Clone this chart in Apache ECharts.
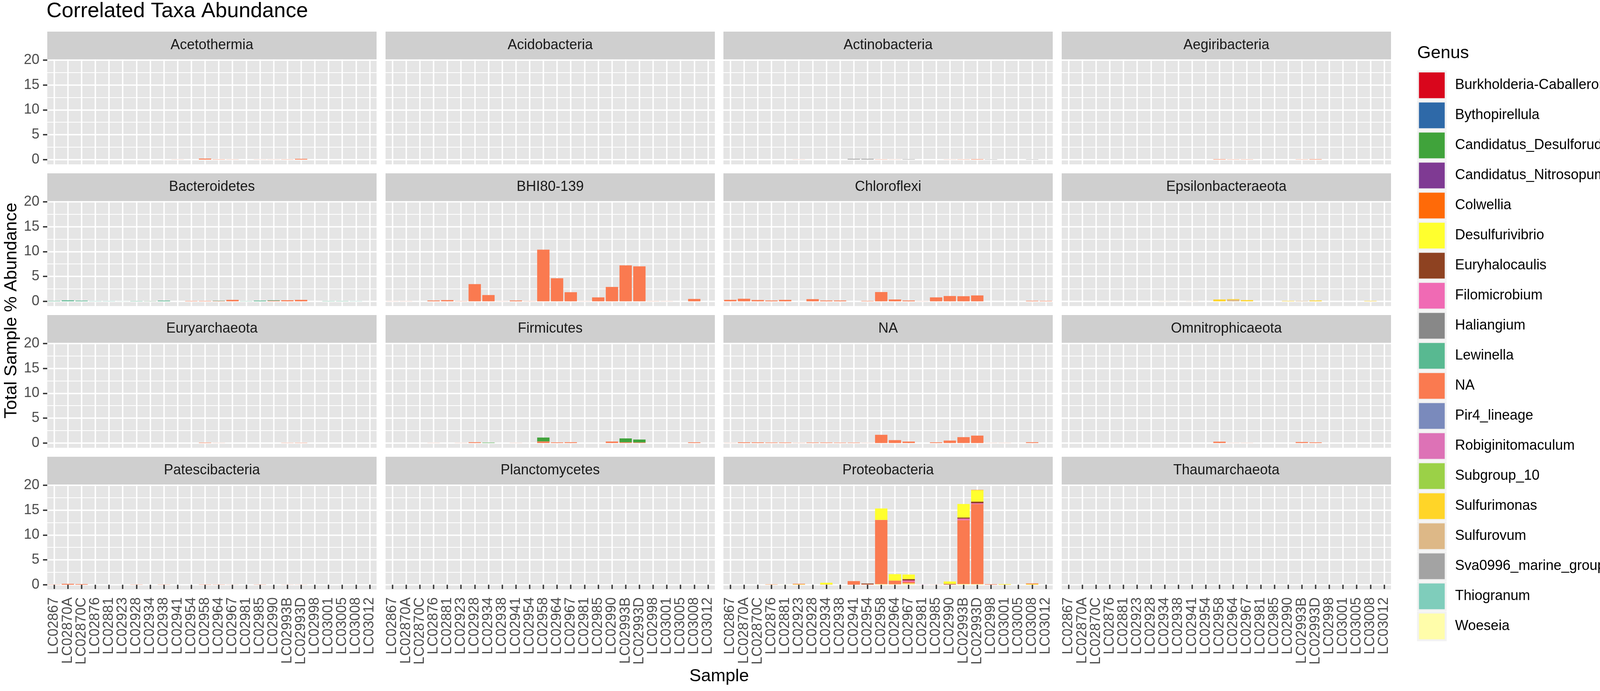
<!DOCTYPE html>
<html>
<head>
<meta charset="utf-8">
<title>Correlated Taxa Abundance</title>
<script src="https://cdn.jsdelivr.net/npm/echarts@6.0.0/dist/echarts.min.js"></script>
<style>
  html, body { margin: 0; padding: 0; background: #ffffff; }
  #chart { width: 4442px; height: 1770px; }
</style>
</head>
<body>
<div id="chart"></div>
<script>
// Samples on the x axis of every facet
const samples = ['LC02867', 'LC02870A', 'LC02870C', 'LC02876', 'LC02881', 'LC02923', 'LC02928', 'LC02934',
  'LC02938', 'LC02941', 'LC02954', 'LC02958', 'LC02964', 'LC02967', 'LC02981', 'LC02985', 'LC02990',
  'LC02993B', 'LC02993D', 'LC02998', 'LC03001', 'LC03005', 'LC03008', 'LC03012']

// Facets (phylum), in panel order
const phyla = ['Acetothermia', 'Acidobacteria', 'Actinobacteria', 'Aegiribacteria',
  'Bacteroidetes', 'BHI80-139', 'Chloroflexi', 'Epsilonbacteraeota',
  'Euryarchaeota', 'Firmicutes', 'NA', 'Omnitrophicaeota',
  'Patescibacteria', 'Planctomycetes', 'Proteobacteria', 'Thaumarchaeota']

// Fill legend
const genera = ['Burkholderia-Caballeronia-Paraburkholderia', 'Bythopirellula', 'Candidatus_Desulforudis',
  'Candidatus_Nitrosopumilus', 'Colwellia', 'Desulfurivibrio', 'Euryhalocaulis', 'Filomicrobium',
  'Haliangium', 'Lewinella', 'NA', 'Pir4_lineage', 'Robiginitomaculum', 'Subgroup_10', 'Sulfurimonas',
  'Sulfurovum', 'Sva0996_marine_group', 'Thiogranum', 'Woeseia']
const genusColors = ['#D9061C', '#2E69A8', '#40A33B', '#7F3A93', '#FF6A08', '#FFFF2E', '#8E4221', '#F06AB4',
  '#888888', '#58B991', '#FA7A50', '#7A8ABC', '#DD72B6', '#9BD147', '#FFD528', '#DDB887',
  '#A3A3A3', '#7FCDBB', '#FFFDAA']

const yTicks = [0, 5, 10, 15, 20]

// % abundance per sample (same order as samples), one array per facet / genus
const acetothermiaNA = [0, 0, 0, 0, 0, 0, 0, 0.01, 0, 0.02, 0, 0.2, 0.05, 0.03, 0, 0.02, 0.02, 0.05, 0.15, 0, 0, 0, 0, 0]
const actinoSva0996 = [0, 0, 0, 0, 0, 0, 0, 0, 0, 0.16, 0.16, 0, 0, 0.08, 0, 0, 0, 0, 0, 0.06, 0, 0, 0.06, 0]
const actinoNA = [0, 0, 0, 0, 0, 0.02, 0, 0, 0, 0, 0, 0.04, 0.02, 0, 0, 0, 0.03, 0.04, 0.08, 0, 0, 0, 0, 0]
const aegiriNA = [0, 0, 0, 0, 0, 0, 0, 0, 0, 0, 0, 0.08, 0.04, 0.04, 0, 0, 0, 0.04, 0.08, 0, 0, 0, 0, 0]
const bacteroLewinella = [0.08, 0.2, 0.13, 0, 0, 0, 0.07, 0.04, 0.13, 0, 0, 0, 0.06, 0, 0.05, 0.13, 0.1, 0, 0, 0, 0.05, 0.05, 0, 0]
const bacteroThiogranum = [0, 0, 0, 0.05, 0.05, 0.02, 0, 0, 0, 0, 0, 0, 0, 0, 0, 0, 0, 0, 0, 0, 0, 0, 0.04, 0]
const bacteroNA = [0, 0, 0, 0, 0, 0, 0, 0.03, 0, 0, 0.07, 0.07, 0.07, 0.29, 0, 0, 0.11, 0.21, 0.29, 0, 0, 0, 0, 0]
const bhiNA = [0.03, 0.03, 0, 0.16, 0.24, 0.04, 3.45, 1.25, 0.03, 0.16, 0.03, 10.38, 4.63, 1.83, 0.02, 0.78, 2.88, 7.22, 7.03, 0.03, 0.02, 0, 0.47, 0]
const chloroNA = [0.29, 0.52, 0.26, 0.16, 0.29, 0, 0.44, 0.16, 0.16, 0, 0.08, 1.86, 0.37, 0.16, 0.03, 0.78, 1.07, 1.02, 1.18, 0, 0, 0, 0.1, 0.08]
const epsSulfurimonas = [0, 0, 0, 0, 0, 0, 0, 0, 0, 0, 0, 0.37, 0.13, 0.24, 0, 0, 0.08, 0, 0.16, 0, 0, 0, 0.08, 0]
const epsSulfurovum = [0, 0, 0, 0, 0, 0, 0, 0.02, 0, 0.02, 0, 0, 0.31, 0, 0, 0, 0, 0.08, 0, 0, 0, 0, 0, 0]
const euryNA = [0, 0, 0, 0, 0, 0, 0, 0, 0, 0, 0, 0.08, 0.02, 0, 0, 0, 0, 0.05, 0.05, 0, 0, 0, 0, 0]
const firmiDesulforudis = [0, 0, 0, 0, 0, 0, 0, 0.08, 0, 0, 0, 0.77, 0, 0, 0, 0, 0, 0.77, 0.58, 0, 0, 0, 0, 0]
const firmiNA = [0, 0, 0, 0.02, 0, 0.02, 0.16, 0, 0, 0.02, 0, 0.33, 0.13, 0.16, 0, 0, 0.29, 0.16, 0.12, 0, 0, 0, 0.13, 0]
const naNA = [0.03, 0.13, 0.13, 0.1, 0.1, 0.03, 0.1, 0.1, 0.08, 0.08, 0.02, 1.65, 0.58, 0.29, 0, 0.13, 0.5, 1.18, 1.49, 0.02, 0.02, 0, 0.16, 0]
const omniNA = [0, 0, 0, 0, 0, 0, 0, 0, 0, 0, 0, 0.27, 0.02, 0.02, 0, 0, 0, 0.2, 0.13, 0, 0, 0, 0, 0]
const patesNA = [0.05, 0.18, 0.12, 0, 0, 0, 0.05, 0, 0.05, 0, 0, 0.05, 0.04, 0.02, 0, 0.05, 0, 0.02, 0.02, 0, 0, 0, 0.01, 0]
const proteoColwellia = [0, 0, 0, 0, 0, 0, 0, 0, 0, 0, 0, 0, 0, 0, 0, 0, 0, 0, 0.05, 0, 0, 0, 0, 0]
const proteoDesulfurivibrio = [0, 0, 0, 0, 0, 0, 0, 0.35, 0, 0, 0, 2.3, 1.3, 0.91, 0, 0, 0.47, 2.72, 2.32, 0, 0.06, 0, 0, 0]
const proteoEuryhalocaulis = [0, 0, 0, 0, 0, 0, 0, 0, 0, 0, 0.15, 0, 0, 0.29, 0, 0, 0.08, 0.23, 0.31, 0, 0, 0, 0, 0]
const proteoFilomicrobium = [0, 0, 0, 0, 0, 0, 0, 0, 0, 0, 0, 0, 0, 0.26, 0.03, 0, 0, 0.31, 0.18, 0, 0, 0, 0, 0]
const proteoNA = [0, 0, 0, 0.05, 0, 0.1, 0, 0.05, 0, 0.73, 0.1, 12.92, 0.73, 0.31, 0, 0.03, 0.1, 12.85, 16.1, 0.1, 0, 0, 0.12, 0]
const proteoSulfurimonas = [0, 0, 0, 0.03, 0, 0.1, 0, 0, 0, 0, 0, 0, 0, 0.08, 0, 0, 0, 0, 0, 0, 0.06, 0, 0.15, 0]
const proteoWoeseia = [0, 0, 0, 0, 0.02, 0, 0, 0, 0, 0, 0, 0.12, 0.1, 0.2, 0, 0, 0, 0.13, 0.12, 0, 0, 0, 0, 0]

const facetSeries = {
  'Acetothermia': { NA: acetothermiaNA },
  'Actinobacteria': { NA: actinoNA, Sva0996_marine_group: actinoSva0996 },
  'Aegiribacteria': { NA: aegiriNA },
  'Bacteroidetes': { Lewinella: bacteroLewinella, NA: bacteroNA, Thiogranum: bacteroThiogranum },
  'BHI80-139': { NA: bhiNA },
  'Chloroflexi': { NA: chloroNA },
  'Epsilonbacteraeota': { Sulfurimonas: epsSulfurimonas, Sulfurovum: epsSulfurovum },
  'Euryarchaeota': { NA: euryNA },
  'Firmicutes': { Candidatus_Desulforudis: firmiDesulforudis, NA: firmiNA },
  'NA': { NA: naNA },
  'Omnitrophicaeota': { NA: omniNA },
  'Patescibacteria': { NA: patesNA },
  'Proteobacteria': {
    Colwellia: proteoColwellia, Desulfurivibrio: proteoDesulfurivibrio, Euryhalocaulis: proteoEuryhalocaulis,
    Filomicrobium: proteoFilomicrobium, NA: proteoNA, Sulfurimonas: proteoSulfurimonas, Woeseia: proteoWoeseia,
  },
}

// ---- layout (pixels) ----
const font = "'Liberation Sans', Arial, Helvetica, sans-serif"
const colLeft = [121, 987, 1852, 2718]
const rowTop = [81, 444, 807, 1170]
const panelW = 843
const stripH = 71
const plotH = 269
const yMin = -0.96
const yMax = 20.16
const gridColor = '#FFFFFF'
const panelBg = '#E5E5E5'
const stripBg = '#CFCFCF'
const tickColor = '#333333'
const labelColor = '#4D4D4D'

const chart = echarts.init(document.getElementById('chart'), null, { renderer: 'canvas' })

const grids = []
const xAxes = []
const yAxes = []
const graphics = []
const series = []
const zeros = samples.map(() => 0)
const stackOrder = genera.slice().reverse() // ggplot stacks the first level on top

phyla.forEach((phylum, f) => {
  const col = f % 4
  const row = Math.floor(f / 4)
  const left = colLeft[col]
  const top = rowTop[row]
  const bottomRow = row === 3
  const leftCol = col === 0

  grids.push({
    left, top: top + stripH, width: panelW, height: plotH,
    show: true, backgroundColor: panelBg, borderWidth: 0, containLabel: false,
  })

  xAxes.push({
    type: 'category', gridIndex: f, data: samples, boundaryGap: true,
    axisLine: { show: false },
    axisTick: { show: bottomRow, alignWithLabel: true, interval: 0, length: 11, lineStyle: { color: tickColor, width: 3.5 } },
    axisLabel: { show: bottomRow, interval: 0, rotate: 90, margin: 20, fontSize: 36, color: labelColor, fontFamily: font },
    splitLine: { show: true, alignWithLabel: true, interval: 0, lineStyle: { color: gridColor, width: 3.5 } },
  })

  yAxes.push({
    type: 'value', gridIndex: f, min: yMin, max: yMax,
    axisLine: { show: false },
    axisTick: { show: leftCol, customValues: yTicks, length: 11, lineStyle: { color: tickColor, width: 3.5 } },
    axisLabel: { show: leftCol, customValues: yTicks, margin: 20, fontSize: 36, color: labelColor, fontFamily: font },
    splitLine: { show: true, lineStyle: { color: gridColor, width: 3.5 } },
    minorTick: { show: false, splitNumber: 2 },
    minorSplitLine: { show: true, lineStyle: { color: gridColor, width: 1.8 } },
  })

  // facet strip
  graphics.push({
    type: 'rect', silent: true, z: 1,
    shape: { x: left, y: top, width: panelW, height: stripH },
    style: { fill: stripBg },
  })
  graphics.push({
    type: 'text', silent: true, z: 2,
    x: left + panelW / 2, y: top + stripH / 2,
    style: { text: phylum, fill: '#1A1A1A', font: `36px ${font}`, align: 'center', verticalAlign: 'middle' },
  })

  const byGenus = facetSeries[phylum] || {}
  stackOrder.forEach((g) => {
    series.push({
      name: g, type: 'bar', stack: phylum,
      xAxisIndex: f, yAxisIndex: f,
      barWidth: '90%',
      data: byGenus[g] || zeros,
      itemStyle: { color: genusColors[genera.indexOf(g)] },
      silent: true,
      emphasis: { disabled: true },
    })
  })
})

// axis titles
graphics.push({
  type: 'text', silent: true,
  x: 30, y: (rowTop[0] + rowTop[3] + stripH + plotH) / 2, rotation: Math.PI / 2,
  style: { text: 'Total Sample % Abundance', fill: '#000', font: `45px ${font}`, align: 'center', verticalAlign: 'middle' },
})
graphics.push({
  type: 'text', silent: true,
  x: (colLeft[0] + colLeft[3] + panelW) / 2, y: 1733,
  style: { text: 'Sample', fill: '#000', font: `45px ${font}`, align: 'center', verticalAlign: 'middle' },
})

chart.setOption({
  animation: false,
  backgroundColor: '#FFFFFF',
  textStyle: { fontFamily: font },
  title: [
    { text: 'Correlated Taxa Abundance', left: 119, top: 2, padding: 0,
      textStyle: { fontSize: 54, fontWeight: 'normal', color: '#000', fontFamily: font } },
    { text: 'Genus', left: 3628, top: 114, padding: 0,
      textStyle: { fontSize: 45, fontWeight: 'normal', color: '#000', fontFamily: font } },
  ],
  legend: {
    data: genera, orient: 'vertical', left: 3627.5, top: 180.5, padding: 0,
    icon: 'rect', itemWidth: 71, itemHeight: 71, itemGap: 1,
    selectedMode: false,
    itemStyle: { borderColor: '#F2F2F2', borderWidth: 5 },
    textStyle: { fontSize: 36, color: '#000', fontFamily: font, padding: [0, 0, 0, 19] },
  },
  tooltip: { show: false },
  grid: grids,
  xAxis: xAxes,
  yAxis: yAxes,
  graphic: graphics,
  series,
})
</script>
</body>
</html>
